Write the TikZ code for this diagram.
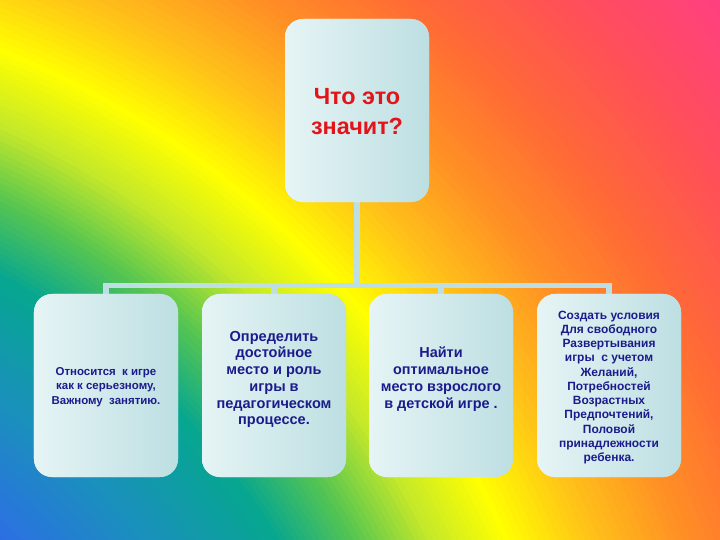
\documentclass[tikz,border=0pt]{standalone}
\usepackage{fontspec}
\setmainfont{Liberation Sans}
\usetikzlibrary{calc}
\definecolor{sA}{HTML}{3068EC}
\definecolor{sB}{HTML}{1A90BC}
\definecolor{sC}{HTML}{06A690}
\definecolor{sD}{HTML}{58C650}
\definecolor{sE}{HTML}{C4E82A}
\definecolor{sF}{HTML}{FFFF00}
\definecolor{sG}{HTML}{FFC418}
\definecolor{sH}{HTML}{FF9224}
\definecolor{sI}{HTML}{FF6C34}
\definecolor{sJ}{HTML}{FF5058}
\definecolor{sK}{HTML}{FF3F82}
\definecolor{boxlight}{HTML}{E6F4F5}
\definecolor{boxdark}{HTML}{BDDFE2}
\definecolor{connc}{HTML}{BDDFE3}
\definecolor{navy}{HTML}{1B1B8C}
\definecolor{titred}{HTML}{E2141A}
\newcommand\bgring[4]{%
  \foreach \j in {0,...,12}{%
    \pgfmathsetmacro\rr{#4-(#4-#3)*\j/12}%
    \pgfmathtruncatemacro\pp{100*\j/12}%
    \fill[#1!\pp!#2] (bgc) circle[radius=\rr];
  }}
\tikzset{
  card/.style={rounded corners=18bp, minimum width=144bp, minimum height=183bp,
    inner sep=0pt, left color=boxlight, right color=boxdark, draw=none},
  conn/.style={draw=connc, line width=5.5bp},
  cardtext/.style={align=center, text=navy, font=\bfseries, inner sep=0pt},
}
\begin{document}
\begin{tikzpicture}[x=1bp,y=-1bp]
\useasboundingbox (0,0) rectangle (720,540);
% background
\begin{scope}
  \clip (0,0) rectangle (720,540);
  \coordinate (bgc) at (-350,920);
  \fill[sK] (0,0) rectangle (720,540);
  \bgring{sJ}{sK}{1300}{1420}
  \bgring{sI}{sJ}{1190}{1300}
  \bgring{sH}{sI}{1100}{1190}
  \bgring{sG}{sH}{1015}{1100}
  \bgring{sF}{sG}{940}{1015}
  \bgring{sE}{sF}{870}{940}
  \bgring{sD}{sE}{805}{870}
  \bgring{sC}{sD}{735}{805}
  \bgring{sB}{sC}{630}{735}
  \bgring{sA}{sB}{500}{630}
\end{scope}
% nodes
\node[card] (top) at (357,110.5) {};
\node[card] (b1) at (106,385.5) {};
\node[card] (b2) at (274,385.5) {};
\node[card] (b3) at (441,385.5) {};
\node[card] (b4) at (609,385.5) {};
\coordinate (hub) at (357,285.5);
% connectors
\draw[conn] (top.south) -- (hub);
\draw[conn] (hub) -| (b1.north);
\draw[conn] (hub) -| (b2.north);
\draw[conn] (hub) -| (b3.north);
\draw[conn] (hub) -| (b4.north);
% redraw cards on top of connector ends
\node[card] at (top) {};
\node[card] at (b1) {};
\node[card] at (b2) {};
\node[card] at (b3) {};
\node[card] at (b4) {};
% texts
\node[align=center, text=titred, font=\bfseries\fontsize{23.5}{30}\selectfont, inner sep=0pt] (ttop) at ([yshift=-1.5bp]top.center) {Что это\\значит?};
\node[cardtext, font=\bfseries\fontsize{11.5}{14.5}\selectfont] (t1) at ([yshift=-1.5bp]b1.center) {Относится \ к игре\\как к серьезному,\\Важному \ занятию.};
\node[cardtext, font=\bfseries\fontsize{14.6}{16.8}\selectfont] (t2) at ([yshift=6bp]b2.center) {Определить\\достойное\\место и роль\\игры в\\педагогическом\\процессе.};
\node[cardtext, font=\bfseries\fontsize{14.5}{17}\selectfont] (t3) at ([yshift=6.5bp]b3.center) {Найти\\оптимальное\\место взрослого\\в детской игре .};
\node[cardtext, font=\bfseries\fontsize{12}{14.3}\selectfont] (t4) at ([yshift=-2bp]b4.center) {Создать условия\\Для свободного\\Развертывания\\игры \ с учетом\\Желаний,\\Потребностей\\Возрастных\\Предпочтений,\\Половой\\принадлежности\\ребенка.};
\end{tikzpicture}
\end{document}
